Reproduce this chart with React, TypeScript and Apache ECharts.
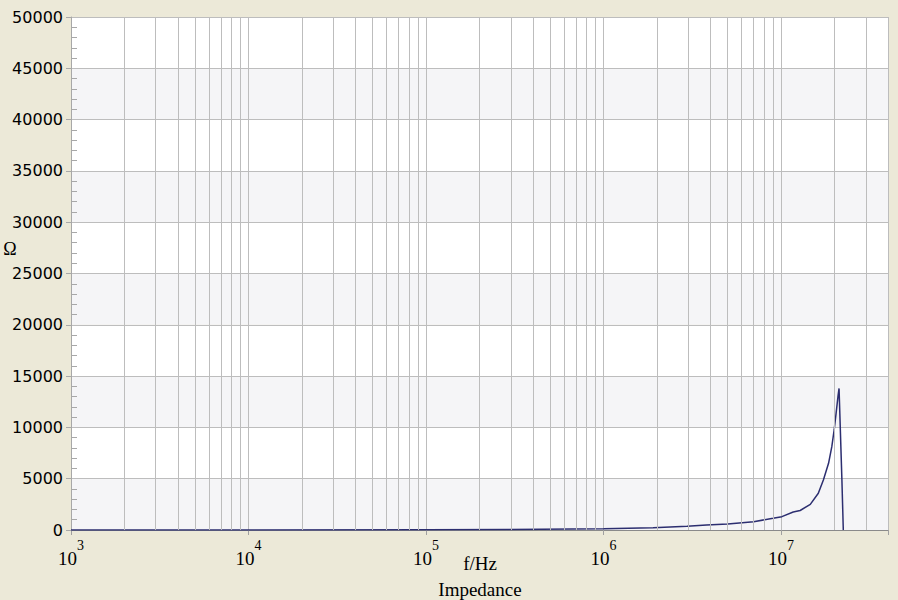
import React, { useEffect, useRef } from 'react';
import * as echarts from 'echarts';

// Frequency (Hz) and impedance (Ω)
const frequencies = [
  1e3, 1e4, 1e5, 3e5, 1e6, 1.9e6, 2.95e6, 3.8e6, 5e6, 7e6, 9e6, 1.01e7, 1.17e7, 1.28e7,
  1.46e7, 1.62e7, 1.73e7, 1.85e7, 1.93e7, 1.99e7, 2.04e7, 2.09e7, 2.12e7, 2.2e7, 2.24e7,
];
const impedance = [
  0.1, 1.3, 13, 40, 130, 230, 360, 480, 590, 810, 1140, 1300, 1750, 1900,
  2500, 3580, 4870, 6500, 8120, 9750, 11370, 12990, 13800, 4870, 0,
];

// Axis settings
const xMin = 1e3;
const xMax = 4e7;
const yMin = 0;
const yMax = 50000;
const yStep = 5000;
const decades = [3, 4, 5, 6, 7];
const minorMultipliers = [2, 3, 4, 5, 6, 7, 8, 9];

const xAxisName = 'f/Hz';
const yAxisName = 'Ω';
const chartTitle = 'Impedance';

export default function App() {
  const ref = useRef<HTMLDivElement>(null);

  useEffect(() => {
    if (!ref.current) return;
    const chart = echarts.init(ref.current, undefined, { renderer: 'svg' });

    const seriesData = frequencies.map((f, i) => [f, impedance[i]]);
    const minorLines: { xAxis: number }[] = [];
    decades.forEach((d) => {
      minorMultipliers.forEach((m) => {
        const v = m * Math.pow(10, d);
        if (v < xMax) minorLines.push({ xAxis: v });
      });
    });

    const gridColor = '#BDBDBD';
    const serif = '"Liberation Serif", "Times New Roman", serif';

    chart.setOption({
      animation: false,
      backgroundColor: '#ECE9D8',
      grid: { left: 71, right: 10, top: 17, bottom: 70, containLabel: false },
      xAxis: {
        type: 'log',
        logBase: 10,
        min: xMin,
        max: xMax,
        interval: 1,
        axisLine: { show: true, lineStyle: { color: '#8a8a8a', width: 1 } },
        axisTick: { show: true, length: 5, lineStyle: { color: '#a0a0a0' } },
        splitLine: { show: true, lineStyle: { color: gridColor, width: 1 } },
        axisLabel: {
          margin: 8,
          formatter: (v: number) => {
            const e = Math.round(Math.log10(v));
            if (Math.abs(v - Math.pow(10, e)) / v > 1e-6) return '';
            return `{b|10}{s|${e}}`;
          },
          rich: {
            b: { fontFamily: serif, fontSize: 19, color: '#000', lineHeight: 40, verticalAlign: 'middle' },
            s: { fontFamily: serif, fontSize: 14, color: '#000', lineHeight: 14, verticalAlign: 'top' },
          },
        },
      },
      yAxis: [
        {
          type: 'value',
          min: yMin,
          max: yMax,
          interval: yStep,
          axisLine: { show: true, lineStyle: { color: '#a8a8a8' } },
          axisTick: { show: true, length: 5, lineStyle: { color: '#a8a8a8' } },
          axisLabel: {
            fontFamily: '"DejaVu Sans", sans-serif',
            fontSize: 16,
            color: '#000',
            margin: 8,
            formatter: (v: number) => String(v),
          },
          splitLine: { show: true, lineStyle: { color: gridColor, width: 1 } },
          splitArea: { show: true, areaStyle: { color: ['#F5F5F7', '#FFFFFF'] } },
        },
        {
          type: 'value',
          min: yMin,
          max: yMax,
          interval: yStep,
          position: 'left',
          axisLine: { show: false },
          axisTick: { show: false, inside: true },
          axisLabel: { show: false },
          splitLine: { show: false },
          minorTick: { show: true, splitNumber: 5, length: 6, lineStyle: { color: '#a8a8a8' } },
        },
      ],
      series: [
        {
          type: 'line',
          data: [],
          silent: true,
          z: 1,
          markLine: {
            silent: true,
            symbol: ['none', 'none'],
            label: { show: false },
            lineStyle: { color: gridColor, width: 1, type: 'solid' },
            data: minorLines,
          },
        },
        {
          type: 'line',
          data: seriesData,
          showSymbol: false,
          symbol: 'none',
          z: 3,
          lineStyle: { color: '#2c2e70', width: 1.5 },
        },
      ],
      graphic: [
        {
          type: 'text',
          x: 10,
          y: 249,
          style: { text: yAxisName, font: `18px ${serif}`, fill: '#000', textAlign: 'center', textVerticalAlign: 'middle' },
        },
        {
          type: 'text',
          x: 480,
          y: 563,
          style: { text: xAxisName, font: `19px ${serif}`, fill: '#000', textAlign: 'center', textVerticalAlign: 'middle' },
        },
        {
          type: 'text',
          x: 480,
          y: 589,
          style: { text: chartTitle, font: `19px ${serif}`, fill: '#000', textAlign: 'center', textVerticalAlign: 'middle' },
        },
      ],
    });

    return () => chart.dispose();
  }, []);

  return (
    <div
      ref={ref}
      style={{ position: 'fixed', left: 0, top: 0, width: 898, height: 600 }}
    />
  );
}
